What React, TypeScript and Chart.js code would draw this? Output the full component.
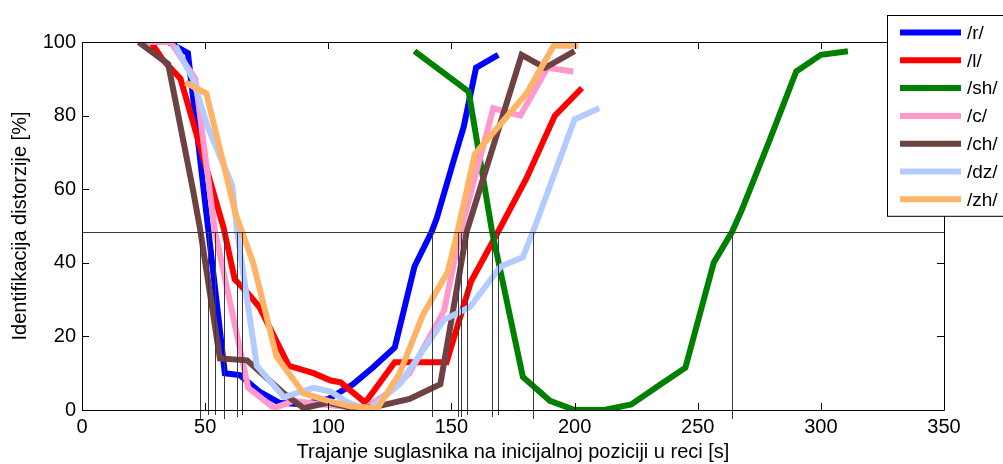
import React, { useEffect, useRef } from "react";
import { Chart, registerables } from "chart.js";

Chart.register(...registerables);

// ---- data ----
const seriesLabels = ["/r/", "/l/", "/sh/", "/c/", "/ch/", "/dz/", "/zh/"];
const seriesColors = ["#0000FF", "#FF0000", "#008000", "#FF99CC", "#6E4242", "#B3CBFF", "#FFB366"];

const rX = [35, 43, 58, 64, 72, 80, 90, 100, 110, 118, 127, 135, 142, 144, 151, 155, 160, 169];
const rY = [100, 97, 10, 9.5, 5, 2, 1.5, 3, 7, 11.5, 17, 39, 48.5, 52, 68, 77, 93, 96.5];

const lX = [28, 33, 40, 57.5, 62, 67, 72, 84, 94, 101, 105, 115, 127, 148, 158, 169, 180.5, 192, 203];
const lY = [100, 95, 90, 49.5, 35.5, 32, 28, 12, 10, 8, 7.5, 2, 13, 13, 35, 48.5, 63, 80, 87.5];

const shX = [135, 157, 166.5, 179, 190, 200, 212, 223, 235, 245, 256.5, 264, 268, 279, 290, 300, 311];
const shY = [97.5, 86.5, 48.5, 9, 2.5, 0, 0, 1.5, 7, 11.5, 40, 48.5, 54.5, 73, 92, 96.5, 97.5];

const cX = [25, 36, 46, 54, 67.5, 78, 86, 97, 105, 115, 125, 133, 147, 153.7, 167, 178, 189, 199.5];
const cY = [100, 100, 90, 48.5, 6, 0.5, 2.5, 1.5, 1, 0.5, 5, 10, 27, 48.5, 82, 80, 93, 92];

const chX = [23, 35, 45, 48, 56, 67, 82, 90, 100, 110, 120, 133, 145.5, 156.2, 178.5, 188, 200];
const chY = [100, 94, 60, 49, 14, 13.5, 4.5, 0.5, 2, 0.5, 1, 3, 7, 48.5, 96.5, 93, 97.5];

const dzX = [38, 45, 51, 61, 63, 71, 82, 94, 101, 108, 116, 129, 147, 157.5, 170, 179, 184, 200, 210];
const dzY = [99, 90, 77, 61, 48.5, 12, 3.5, 6, 5, 2, 0, 7, 24.5, 28, 39, 41.5, 50, 79, 82];

const zhX = [42, 50.5, 62.5, 69.5, 79, 90, 100, 109, 120, 129, 138.5, 148.5, 152.5, 159.5, 180.5, 191.5, 201.5];
const zhY = [89, 86, 53, 40, 14.5, 4.5, 2.5, 1, 0.5, 10, 26, 37.5, 48.5, 69.5, 86, 99, 99];

const seriesX = [rX, lX, shX, cX, chX, dzX, zhX];
const seriesY = [rY, lY, shY, cY, chY, dzY, zhY];

const xTicks = [0, 50, 100, 150, 200, 250, 300, 350];
const yTicks = [0, 20, 40, 60, 80, 100];
const THRESHOLD = 48.5;

const xTitle = "Trajanje suglasnika na inicijalnoj poziciji u reci [s]";
const yTitle = "Identifikacija distorzije [%]";

const FONT = "'Liberation Sans', Arial, sans-serif";

function crossings(xs: number[], ys: number[], t: number): number[] {
  const out: number[] = [];
  for (let i = 0; i < xs.length - 1; i++) {
    const y0 = ys[i] - t;
    const y1 = ys[i + 1] - t;
    if (y0 === 0) {
      out.push(xs[i]);
      continue;
    }
    if (y0 * y1 < 0) {
      out.push(xs[i] + (xs[i + 1] - xs[i]) * (y0 / (y0 - y1)));
    }
  }
  return out;
}

const decorPlugin = {
  id: "decor",
  afterDatasetsDraw(chart: any) {
    const { ctx, chartArea } = chart;
    const xs = chart.scales.x;
    const ys = chart.scales.y;
    const { left, right, top, bottom } = chartArea;
    ctx.save();
    // threshold line
    const ty = Math.round(ys.getPixelForValue(THRESHOLD)) + 0.5;
    ctx.strokeStyle = "#3a3a3a";
    ctx.lineWidth = 1;
    ctx.beginPath();
    ctx.moveTo(left, ty);
    ctx.lineTo(right, ty);
    ctx.stroke();
    // vertical crossing lines
    const all: number[] = [];
    for (let i = 0; i < seriesX.length; i++) {
      all.push(...crossings(seriesX[i], seriesY[i], THRESHOLD));
    }
    all.forEach((xv, k) => {
      const px = Math.round(xs.getPixelForValue(xv)) + 0.5;
      ctx.beginPath();
      ctx.moveTo(px, ty);
      ctx.lineTo(px, bottom + 5 + (k % 3) * 2);
      ctx.stroke();
    });
    // box
    ctx.strokeStyle = "#000";
    ctx.beginPath();
    ctx.rect(Math.round(left) + 0.5, Math.round(top) + 0.5, Math.round(right - left), Math.round(bottom - top));
    ctx.stroke();
    // inward ticks
    const tl = 7;
    ctx.beginPath();
    xTicks.forEach((v) => {
      const px = Math.round(xs.getPixelForValue(v)) + 0.5;
      ctx.moveTo(px, bottom);
      ctx.lineTo(px, bottom - tl);
      ctx.moveTo(px, top);
      ctx.lineTo(px, top + tl);
    });
    yTicks.forEach((v) => {
      const py = Math.round(ys.getPixelForValue(v)) + 0.5;
      ctx.moveTo(left, py);
      ctx.lineTo(left + tl, py);
      ctx.moveTo(right, py);
      ctx.lineTo(right - tl, py);
    });
    ctx.stroke();
    ctx.restore();
  },
  afterDraw(chart: any) {
    const { ctx } = chart;
    const ds = chart.data.datasets;
    ctx.save();
    const bx = 887.5;
    const by = 15.5;
    const rowH = 27.8;
    const bh = 34 + rowH * (ds.length - 1);
    ctx.fillStyle = "#fff";
    ctx.fillRect(bx, by, 200, bh);
    ctx.strokeStyle = "#000";
    ctx.lineWidth = 1;
    ctx.strokeRect(bx, by, 200, bh);
    ctx.font = `19px ${FONT}`;
    ctx.textBaseline = "middle";
    ctx.textAlign = "left";
    ds.forEach((d: any, i: number) => {
      const cy = 32.5 + i * rowH;
      ctx.strokeStyle = d.borderColor;
      ctx.lineWidth = 6;
      ctx.beginPath();
      ctx.moveTo(900, cy);
      ctx.lineTo(961, cy);
      ctx.stroke();
      ctx.fillStyle = "#000";
      ctx.fillText(d.label, 967, cy + 1);
    });
    ctx.restore();
  },
};

export default function App() {
  const ref = useRef<HTMLCanvasElement | null>(null);
  useEffect(() => {
    if (!ref.current) return;
    Chart.defaults.font.family = FONT;
    Chart.defaults.color = "#000";
    const datasets = seriesLabels.map((label, i) => ({
      label,
      data: seriesX[i].map((x, j) => ({ x, y: seriesY[i][j] })),
      borderColor: seriesColors[i],
      backgroundColor: seriesColors[i],
      borderWidth: 6,
      pointRadius: 0,
      fill: false,
      tension: 0,
      order: seriesLabels.length - i,
    }));
    const chart = new Chart(ref.current, {
      type: "line",
      data: { datasets },
      options: {
        responsive: false,
        animation: false,
        layout: { padding: { top: 42, right: 59, left: 0, bottom: 0 } },
        plugins: { legend: { display: false }, tooltip: { enabled: false } },
        scales: {
          x: {
            type: "linear",
            min: 0,
            max: 350,
            afterBuildTicks: (s: any) => {
              s.ticks = xTicks.map((v) => ({ value: v }));
            },
            afterFit: (s: any) => {
              s.height = 54;
            },
            grid: { display: false, drawTicks: false },
            border: { display: false },
            ticks: { font: { size: 20 }, padding: 5, maxRotation: 0, autoSkip: false },
            title: { display: true, text: xTitle, font: { size: 20 }, padding: { top: 0, bottom: 0 } },
          },
          y: {
            type: "linear",
            min: 0,
            max: 100,
            afterBuildTicks: (s: any) => {
              s.ticks = yTicks.map((v) => ({ value: v }));
            },
            afterFit: (s: any) => {
              s.width = 82;
            },
            grid: { display: false, drawTicks: false },
            border: { display: false },
            ticks: { font: { size: 20 }, padding: 6, autoSkip: false },
            title: { display: true, text: yTitle, font: { size: 20 }, padding: { top: 8, bottom: 0 } },
          },
        },
      },
      plugins: [decorPlugin],
    } as any);
    return () => chart.destroy();
  }, []);
  return (
    <div style={{ position: "fixed", left: 0, top: 0, width: 1003, height: 464, background: "#fff" }}>
      <canvas ref={ref} width={1003} height={464} style={{ display: "block", width: 1003, height: 464 }} />
    </div>
  );
}
